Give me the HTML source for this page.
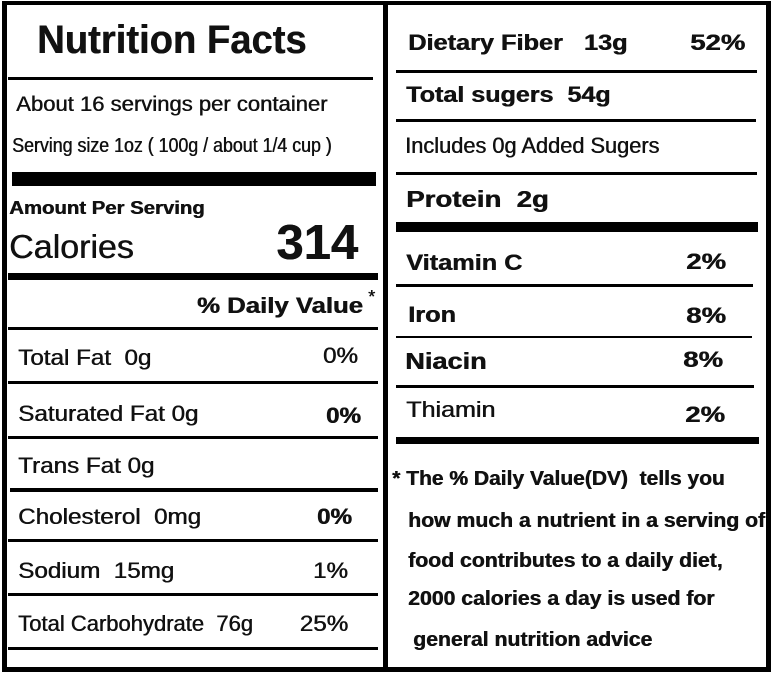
<!DOCTYPE html>
<html><head><meta charset="utf-8"><style>
*{margin:0;padding:0}
body{width:772px;height:674px;background:#fff;position:relative;overflow:hidden;font-family:"Liberation Sans",sans-serif;color:#111}
.b{position:absolute;background:#000}
.t{position:absolute;line-height:1;white-space:nowrap;transform-origin:left center;text-shadow:0.5px 0 0 #111}
.r{position:absolute;line-height:1;white-space:nowrap;transform-origin:right center;text-align:right;text-shadow:0.5px 0 0 #111}
.bd{font-weight:bold}
</style></head><body>
<div class="b" style="left:2px;top:1px;width:768px;height:4px"></div>
<div class="b" style="left:2px;top:667px;width:768px;height:5px"></div>
<div class="b" style="left:2px;top:1px;width:5px;height:671px"></div>
<div class="b" style="left:766px;top:1px;width:5px;height:671px"></div>
<div class="b" style="left:383px;top:1px;width:5px;height:671px"></div>

<div class="t bd" style="left:37px;top:20px;font-size:40px;transform:scaleX(0.955)">Nutrition Facts</div>
<div class="b" style="left:8px;top:77px;width:365px;height:3px"></div>
<div class="t" style="left:16px;top:94px;font-size:21px;transform:scaleX(1.05)">About 16 servings per container</div>
<div class="t" style="left:12px;top:136px;font-size:20px;transform:scaleX(0.89)">Serving size 1oz ( 100g / about 1/4 cup )</div>
<div class="b" style="left:12px;top:172px;width:364px;height:14px"></div>
<div class="t bd" style="left:9px;top:199px;font-size:18px;transform:scaleX(1.13)">Amount Per Serving</div>
<div class="t" style="left:9px;top:230px;font-size:33px;transform:scaleX(1.03)">Calories</div>
<div class="r bd" style="right:414px;top:219px;font-size:49px">314</div>
<div class="b" style="left:8px;top:273px;width:370px;height:7px"></div>
<div class="r bd" style="right:409px;top:295px;font-size:22px;transform:scaleX(1.17)">% Daily Value</div>
<div class="t" style="left:368px;top:288px;font-size:18px">*</div>
<div class="b" style="left:8px;top:327px;width:370px;height:3px"></div>

<div class="t" style="left:18px;top:347px;font-size:22px;transform:scaleX(1.1)">Total Fat&nbsp; 0g</div>
<div class="r" style="right:414px;top:345px;font-size:22px;transform:scaleX(1.1)">0%</div>
<div class="b" style="left:8px;top:381px;width:370px;height:3px"></div>
<div class="t" style="left:18px;top:403px;font-size:22px;transform:scaleX(1.1)">Saturated Fat 0g</div>
<div class="r bd" style="right:411px;top:405px;font-size:22px;transform:scaleX(1.1)">0%</div>
<div class="b" style="left:8px;top:436px;width:370px;height:3px"></div>
<div class="t" style="left:18px;top:455px;font-size:22px;transform:scaleX(1.1)">Trans Fat 0g</div>
<div class="b" style="left:10px;top:488px;width:368px;height:4px"></div>
<div class="t" style="left:18px;top:506px;font-size:22px;transform:scaleX(1.1)">Cholesterol&nbsp; 0mg</div>
<div class="r bd" style="right:420px;top:506px;font-size:22px;transform:scaleX(1.1)">0%</div>
<div class="b" style="left:8px;top:539px;width:370px;height:3px"></div>
<div class="t" style="left:18px;top:560px;font-size:22px;transform:scaleX(1.1)">Sodium&nbsp; 15mg</div>
<div class="r" style="right:424px;top:560px;font-size:22px;transform:scaleX(1.1)">1%</div>
<div class="b" style="left:8px;top:593px;width:370px;height:3px"></div>
<div class="t" style="left:18px;top:613px;font-size:22px;transform:scaleX(1.0)">Total Carbohydrate&nbsp; 76g</div>
<div class="r" style="right:424px;top:613px;font-size:22px;transform:scaleX(1.1)">25%</div>
<div class="b" style="left:8px;top:647px;width:370px;height:3px"></div>

<div class="t bd" style="left:408px;top:32px;font-size:22px;transform:scaleX(1.15)">Dietary Fiber&nbsp;&nbsp; 13g</div>
<div class="r bd" style="right:27px;top:32px;font-size:22px;transform:scaleX(1.25)">52%</div>
<div class="b" style="left:396px;top:70px;width:361px;height:3px"></div>
<div class="t bd" style="left:406px;top:84px;font-size:22px;transform:scaleX(1.14)">Total sugers&nbsp; 54g</div>
<div class="b" style="left:396px;top:119px;width:360px;height:3px"></div>
<div class="t" style="left:405px;top:135px;font-size:22px;transform:scaleX(0.99)">Includes 0g Added Sugers</div>
<div class="b" style="left:396px;top:172px;width:361px;height:3px"></div>
<div class="t bd" style="left:406px;top:188px;font-size:23px;transform:scaleX(1.2)">Protein&nbsp; 2g</div>
<div class="b" style="left:396px;top:222px;width:362px;height:10px"></div>
<div class="t bd" style="left:406px;top:252px;font-size:22px;transform:scaleX(1.15)">Vitamin C</div>
<div class="r bd" style="right:46px;top:251px;font-size:22px;transform:scaleX(1.25)">2%</div>
<div class="b" style="left:396px;top:284px;width:357px;height:3px"></div>
<div class="t bd" style="left:408px;top:304px;font-size:22px;transform:scaleX(1.15)">Iron</div>
<div class="r bd" style="right:46px;top:305px;font-size:22px;transform:scaleX(1.25)">8%</div>
<div class="b" style="left:396px;top:336px;width:356px;height:2px"></div>
<div class="t bd" style="left:405px;top:350px;font-size:23px;transform:scaleX(1.18)">Niacin</div>
<div class="r bd" style="right:49px;top:349px;font-size:22px;transform:scaleX(1.25)">8%</div>
<div class="b" style="left:396px;top:385px;width:358px;height:3px"></div>
<div class="t" style="left:406px;top:399px;font-size:22px;transform:scaleX(1.14)">Thiamin</div>
<div class="r bd" style="right:47px;top:404px;font-size:22px;transform:scaleX(1.25)">2%</div>
<div class="b" style="left:396px;top:437px;width:363px;height:7px"></div>

<div class="t bd" style="left:392px;top:469px;font-size:20px;transform:scaleX(1.05)">* The % Daily Value(DV)&nbsp; tells you</div>
<div class="t bd" style="left:408px;top:511px;font-size:20px;transform:scaleX(1.06)">how much a nutrient in a serving of</div>
<div class="t bd" style="left:408px;top:551px;font-size:20px;transform:scaleX(1.06)">food contributes to a daily diet,</div>
<div class="t bd" style="left:408px;top:589px;font-size:20px;transform:scaleX(1.06)">2000 calories a day is used for</div>
<div class="t bd" style="left:413px;top:630px;font-size:20px;transform:scaleX(1.06)">general nutrition advice</div>
</body></html>
